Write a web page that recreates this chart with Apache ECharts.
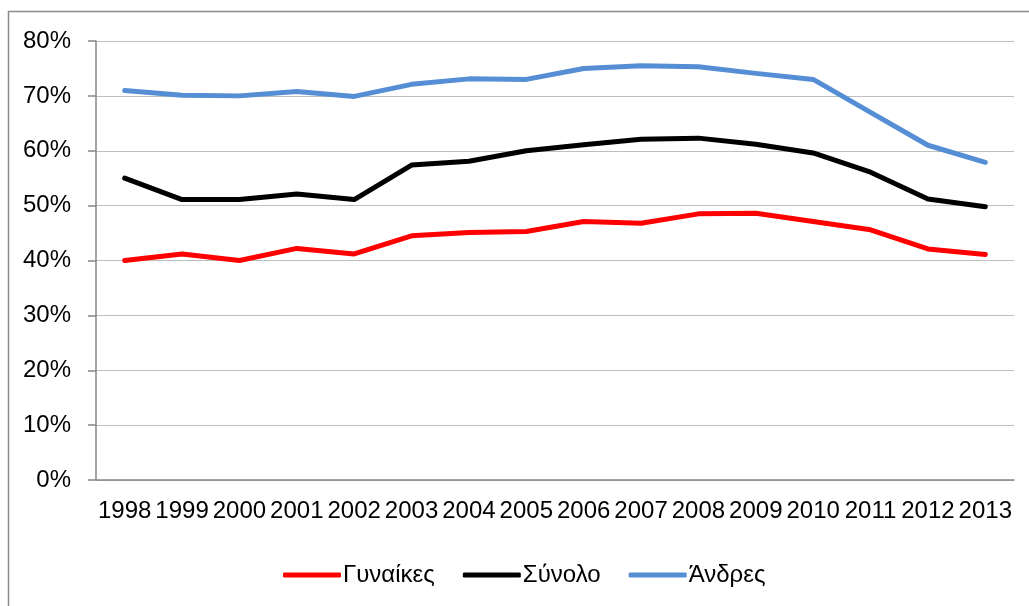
<!DOCTYPE html>
<html>
<head>
<meta charset="utf-8">
<script src="https://cdn.jsdelivr.net/npm/echarts@6/dist/echarts.min.js"></script>
<style>
  html, body { margin: 0; padding: 0; background: #fff; }
  #main { width: 1029px; height: 606px; }
</style>
</head>
<body>
<div id="main"></div>
<script>
// κατηγορίες (έτη)
var years = ['1998','1999','2000','2001','2002','2003','2004','2005','2006','2007','2008','2009','2010','2011','2012','2013'];
var yTicks = [0, 10, 20, 30, 40, 50, 60, 70, 80];

// τιμές σε %
var gynaikes = [40.0, 41.2, 40.0, 42.2, 41.2, 44.5, 45.1, 45.3, 47.1, 46.8, 48.5, 48.6, 47.1, 45.6, 42.1, 41.1];
var synolo   = [55.0, 51.1, 51.1, 52.1, 51.1, 57.4, 58.1, 60.0, 61.1, 62.1, 62.3, 61.2, 59.6, 56.1, 51.2, 49.8];
var andres   = [71.0, 70.1, 70.0, 70.8, 69.9, 72.1, 73.1, 73.0, 75.0, 75.5, 75.3, 74.1, 73.0, 67.0, 61.0, 57.9];

var font = '"Liberation Sans", Arial, sans-serif';

var myChart = echarts.init(document.getElementById('main'));

var option = {
    animation: false,
    textStyle: { fontFamily: font },
    graphic: [{
        type: 'rect',
        shape: { x: 8.5, y: 11.5, width: 1100, height: 700 },
        style: { fill: 'none', stroke: '#8c8c8c', lineWidth: 1.5 },
        silent: true
    }],
    grid: { left: 96, right: 15, top: 41, bottom: 126 },
    legend: {
        left: 278,
        top: 558,
        itemWidth: 58,
        itemHeight: 5,
        itemGap: 28,
        icon: 'roundRect',
        textStyle: { color: '#000', fontSize: 24, fontFamily: font, padding: [0, 0, 0, -3] },
        data: ['Γυναίκες', 'Σύνολο', 'Άνδρες']
    },
    xAxis: {
        type: 'category',
        data: years,
        boundaryGap: true,
        axisLine: { lineStyle: { color: '#868686', width: 1.5 } },
        axisTick: { length: 7, lineStyle: { color: '#868686', width: 1.5 } },
        axisLabel: { interval: 0, margin: 19, color: '#000', fontSize: 24, fontFamily: font }
    },
    yAxis: {
        type: 'value',
        min: yTicks[0],
        max: yTicks[yTicks.length - 1],
        interval: 10,
        axisLine: { show: true, lineStyle: { color: '#868686', width: 1.5 } },
        axisTick: { show: true, length: 8, lineStyle: { color: '#868686', width: 1.5 } },
        splitLine: { lineStyle: { color: '#bfbfbf', width: 1.2 } },
        axisLabel: { margin: 25, color: '#000', fontSize: 24, fontFamily: font, formatter: '{value}%' }
    },
    series: [
        {
            name: 'Γυναίκες', type: 'line', data: gynaikes,
            symbol: 'none', color: '#ff0000',
            lineStyle: { width: 5, cap: 'round', join: 'round' }
        },
        {
            name: 'Σύνολο', type: 'line', data: synolo,
            symbol: 'none', color: '#000000',
            lineStyle: { width: 5, cap: 'round', join: 'round' }
        },
        {
            name: 'Άνδρες', type: 'line', data: andres,
            symbol: 'none', color: '#558ed5',
            lineStyle: { width: 5, cap: 'round', join: 'round' }
        }
    ]
};

myChart.setOption(option);
</script>
</body>
</html>
